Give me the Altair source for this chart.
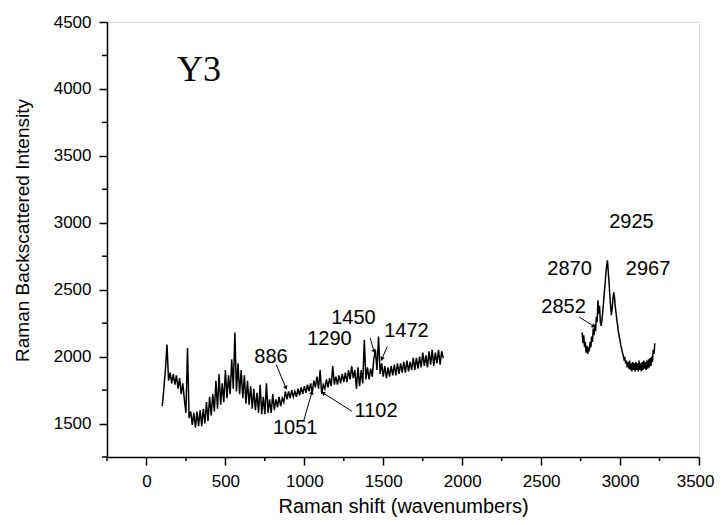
import altair as alt
import pandas as pd

# ---- spectrum values ----
seg1_start, seg1_step = 100, 10
seg1_y = [
    1630, 1760, 1900, 2090, 1820, 1880, 1800, 1870, 1790, 1860,
    1760, 1840, 1720, 1800, 1680, 1580, 2065, 1540, 1590, 1490,
    1580, 1470, 1590, 1480, 1600, 1480, 1610, 1500, 1660, 1520,
    1700, 1560, 1720, 1590, 1820, 1610, 1870, 1640, 1800, 1660,
    1900, 1690, 1860, 1720, 1980, 1760, 2180, 1740, 1950, 1720,
    1900, 1690, 1860, 1650, 1820, 1640, 1780, 1610, 1760, 1600,
    1730, 1580, 1790, 1570, 1700, 1570, 1800, 1580, 1680, 1580,
    1720, 1600, 1680, 1620, 1700, 1630, 1690, 1660, 1740, 1680,
    1740, 1690, 1750, 1700, 1740, 1700, 1760, 1710, 1770, 1720,
    1780, 1730, 1790, 1740, 1800, 1730, 1820, 1770, 1850, 1760,
    1900, 1720, 1790, 1760, 1830, 1770, 1840, 1780, 1930, 1790,
    1850, 1790, 1860, 1800, 1870, 1810, 1880, 1810, 1900, 1830,
    1930, 1840, 1900, 1760, 1920, 1780, 1900, 1800, 2126, 1830,
    1920, 1830, 1910, 1850, 1980, 2050, 1900, 2150, 1870, 1950,
    1850, 1930, 1840, 1920, 1850, 1930, 1860, 1940, 1860, 1950,
    1870, 1950, 1880, 1960, 1880, 1970, 1890, 1960, 1900, 1990,
    1900, 1990, 1910, 2000, 1920, 2030, 1930, 2010, 1920, 2040,
    1940, 2050, 1930, 2030, 1950, 2050, 1940, 2040, 1990,
]
seg2_start, seg2_step = 2760, 5
seg2_y = [
    2180, 2100, 2160, 2070, 2110, 2030, 2080, 2020, 2070, 2040,
    2110, 2070, 2150, 2110, 2210, 2160, 2240, 2190, 2300, 2260,
    2420, 2320, 2380, 2260, 2230, 2270, 2330, 2400, 2480, 2540,
    2620, 2680, 2720, 2640, 2560, 2460, 2380, 2310, 2360, 2430,
    2480, 2440, 2370, 2320, 2270, 2230, 2180, 2150, 2120, 2080,
    2060, 2030, 2010, 1980, 1990, 1950, 1970, 1920, 1960, 1910,
    1970, 1900, 1950, 1890, 1960, 1900, 1950, 1890, 1960, 1900,
    1950, 1890, 1970, 1900, 1950, 1890, 1960, 1900, 1970, 1910,
    1960, 1900, 1970, 1910, 1980, 1920, 1990, 1930, 2000, 1960,
    2050, 2020, 2100,
]

# ---- axis ticks ----
x_major = [0, 500, 1000, 1500, 2000, 2500, 3000, 3500]
x_minor = [-250, 250, 750, 1250, 1750, 2250, 2750, 3250]
y_major = [1500, 2000, 2500, 3000, 3500, 4000, 4500]
y_minor = [1250, 1750, 2250, 2750, 3250, 3750, 4250]

# ---- annotations ----
ann_text = ["886", "1051", "1102", "1290", "1450", "1472", "2852", "2870", "2925", "2967"]
ann_x = [789, 942, 1454, 1159, 1311, 1647, 2642, 2680, 3072, 3177]
ann_y = [2000, 1463, 1597, 2132, 2288, 2195, 2371, 2652, 3005, 2652]

arrow_x = [822, 995, 1301, 1417, 1526, 2741]
arrow_y = [1940, 1517, 1592, 2139, 2076, 2296]
arrow_x2 = [884, 1048, 1118, 1442, 1491, 2834]
arrow_y2 = [1766, 1733, 1729, 2039, 1982, 2226]
arrow_angle = [157, 16, 302, 163, 204, 123]

label_text = ["Y3"]
label_x = [332]
label_y = [4143]

rows = []
for i, v in enumerate(seg1_y):
    rows.append({"seg": "a", "x": seg1_start + i * seg1_step, "y": v})
for i, v in enumerate(seg2_y):
    rows.append({"seg": "b", "x": seg2_start + i * seg2_step, "y": v})
spec_df = pd.DataFrame(rows)

ann_df = pd.DataFrame({"t": ann_text, "x": ann_x, "y": ann_y})
arr_df = pd.DataFrame({"x": arrow_x, "y": arrow_y, "x2": arrow_x2, "y2": arrow_y2, "a": arrow_angle})
lab_df = pd.DataFrame({"t": label_text, "x": label_x, "y": label_y})
xmin_df = pd.DataFrame({"x": x_minor})
ymin_df = pd.DataFrame({"y": y_minor})

FONT = "Liberation Sans"
W, H = 592, 435

xscale = alt.Scale(domain=[-250, 3500], nice=False, zero=False)
yscale = alt.Scale(domain=[1250, 4500], nice=False, zero=False)

xaxis = alt.Axis(
    values=x_major, format="d", tickSize=8,
    grid=False, domainColor="black", tickColor="black", domainWidth=1.5, tickWidth=1.5,
    labelColor="black", labelFont=FONT, labelFontSize=17, labelPadding=21,
    labelBaseline="alphabetic",
    labelFlush=True, labelFlushOffset=15, labelOverlap=False,
    title="Raman shift (wavenumbers)", titleFont=FONT, titleFontSize=20,
    titleFontWeight="normal", titleColor="black",
    titleBaseline="alphabetic", titleY=55,
)
yaxis = alt.Axis(
    values=y_major, format="d", tickSize=8,
    grid=False, domainColor="black", tickColor="black", domainWidth=1.5, tickWidth=1.5,
    labelColor="black", labelFont=FONT, labelFontSize=17, labelPadding=8,
    labelFlush=False, labelOverlap=False,
    title="Raman Backscattered Intensity", titleFont=FONT, titleFontSize=19,
    titleFontWeight="normal", titleColor="black",
    titleBaseline="alphabetic", titleX=-79, titleY=208,
)

line = alt.Chart(spec_df).mark_line(color="black", strokeWidth=1.5).encode(
    x=alt.X("x:Q", scale=xscale, axis=xaxis),
    y=alt.Y("y:Q", scale=yscale, axis=yaxis),
    detail="seg:N",
)

xminor = alt.Chart(xmin_df).mark_rule(color="black", strokeWidth=1.5, clip=False).encode(
    x="x:Q", y=alt.value(H), y2=alt.value(H + 4))
yminor = alt.Chart(ymin_df).mark_rule(color="black", strokeWidth=1.5, clip=False).encode(
    y="y:Q", x=alt.value(0), x2=alt.value(-5))

texts = alt.Chart(ann_df).mark_text(font=FONT, fontSize=20, color="black",
                                    align="center", baseline="middle").encode(
    x="x:Q", y="y:Q", text="t:N")

arrows = alt.Chart(arr_df).mark_rule(color="black", strokeWidth=1).encode(
    x="x:Q", y="y:Q", x2="x2:Q", y2="y2:Q")

heads = alt.Chart(arr_df).mark_point(shape="triangle-up", filled=True, color="black",
                                     size=22, opacity=1).encode(
    x="x2:Q", y="y2:Q", angle=alt.Angle("a:Q", scale=None))

label = alt.Chart(lab_df).mark_text(font="Liberation Serif", fontSize=36, color="black",
                                    align="center", baseline="middle").encode(
    x="x:Q", y="y:Q", text="t:N")

chart = alt.layer(line, xminor, yminor, arrows, heads, texts, label).properties(
    width=W, height=H,
    autosize=alt.AutoSizeParams(type="none"),
    padding={"left": 99, "top": 14, "right": 16, "bottom": 60},
).configure_view(stroke=None).configure(background="white")

chart.save("out.html", embed_options={"renderer": "svg", "actions": False})
